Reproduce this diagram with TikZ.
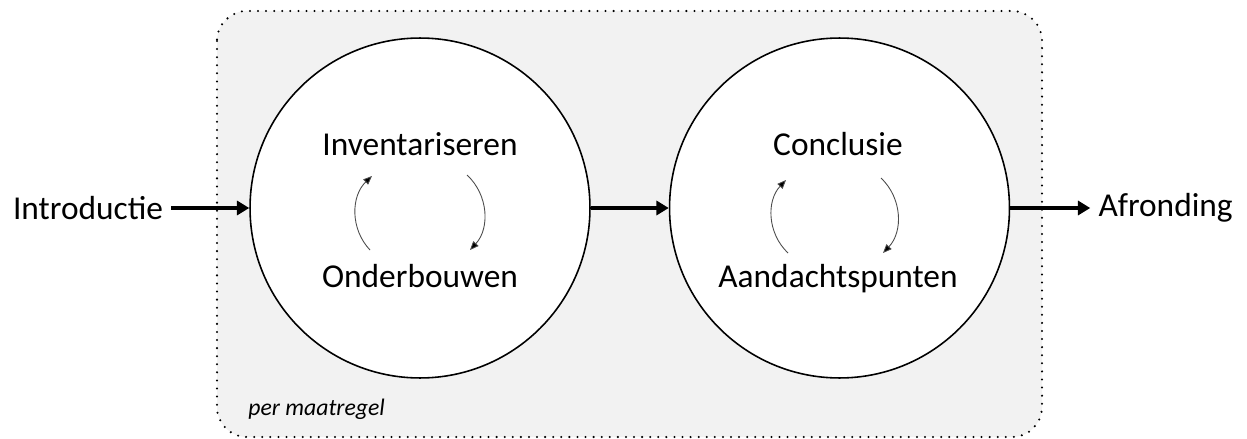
\documentclass[tikz,border=0pt]{standalone}
\usepackage{fontspec}
\setmainfont{Carlito}
\usetikzlibrary{positioning, arrows.meta}

\tikzset{
  phase/.style = {circle, draw, line width=0.9pt, fill=white, minimum size=6.8cm, inner sep=0pt},
  word/.style = {inner sep=4.5pt, font=\fontsize{19}{23}\selectfont},
  flow/.style = {line width=2.1pt, -{Triangle[length=7pt,width=8pt]}},
  turn/.style = {line width=0.5pt, draw=black!70, -{Triangle[length=5pt,width=4pt,fill=black]}, bend left=45}
}

\begin{document}
\begin{tikzpicture}[x=0.02cm, y=-0.02cm]
\useasboundingbox (0,0) rectangle (1247,439);

% gray frame, one per measure
\draw[fill=black!5, line width=1.3pt, dash pattern=on 0pt off 4.6pt, line cap=round,
  rounded corners=0.6cm] (217,11) rectangle (1042,437);
\node[anchor=base west, inner sep=0pt, font=\fontsize{13.5}{16}\selectfont\itshape] (per) at (248,415) {per maatregel};

\node[phase] (P1) at (420,208) {};
\node[phase] (P2) [right = 1.56cm of P1] {};

\node[word] (intro) [left = 1.56cm of P1] {Introductie};
\node[word] (afr) [right = 1.6cm of P2] {Afronding};

\draw[flow] (intro) -- (P1);
\draw[flow] (P1) -- (P2);
\draw[flow] (P2) -- (afr);

% first circle
\node[word, anchor=base] (inv) at (420,155) {Inventariseren};
\node[word, anchor=base] (ond) at (420,287) {Onderbouwen};
\coordinate (i1) at (370,250);
\coordinate (i2) at (372,176);
\coordinate (i3) at (467,175);
\coordinate (i4) at (470,250);
\draw[turn] (i1) to (i2);
\draw[turn] (i3) to (i4);

% second circle
\node[word, anchor=base] (con) at (838,155) {Conclusie};
\node[word, anchor=base] (aan) at (838,287) {Aandachtspunten};
\coordinate (c1) at (788,253);
\coordinate (c2) at (786,180);
\coordinate (c3) at (881,178);
\coordinate (c4) at (883,253);
\draw[turn] (c1) to (c2);
\draw[turn] (c3) to (c4);
\end{tikzpicture}
\end{document}
